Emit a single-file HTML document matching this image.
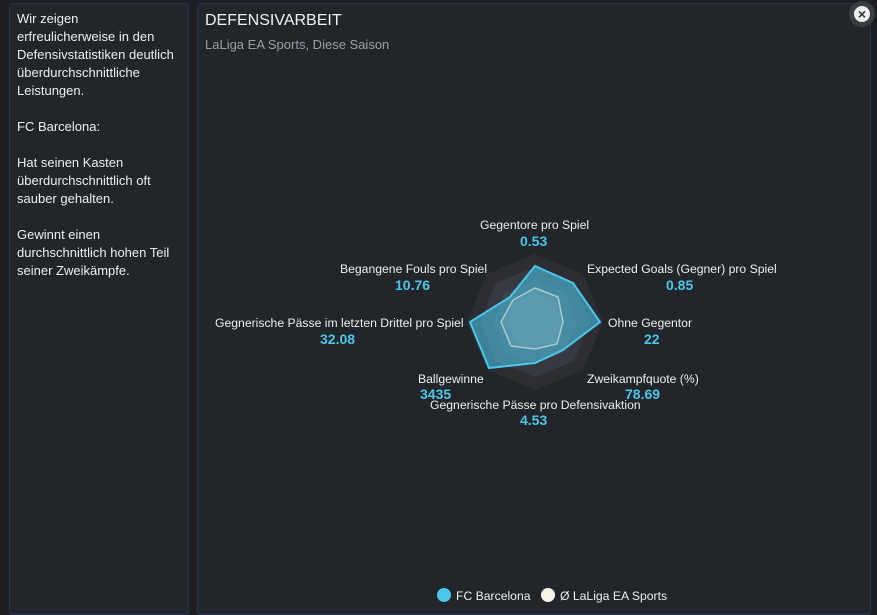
<!DOCTYPE html>
<html><head><meta charset="utf-8"><style>
body{margin:0;width:877px;height:610px;background:#1c1e21;font-family:"Liberation Sans",sans-serif;overflow:hidden;position:relative;color:#e8e8e8}
.p{position:absolute;background:#22252a;border:1px solid #1f3550;border-radius:3px}
.t{position:absolute;font-size:12.2px;line-height:18px;color:#eee;white-space:nowrap}
.v{position:absolute;font-size:14px;font-weight:bold;color:#4ac8ec;white-space:nowrap}
</style></head><body>
<div class="p" style="left:9px;top:3px;width:178px;height:610px"></div>
<div class="t" style="left:17px;top:10px;white-space:normal;width:175px;line-height:18px;font-size:13px">Wir zeigen<br>erfreulicherweise in den<br>Defensivstatistiken deutlich<br>überdurchschnittliche<br>Leistungen.<br><br>FC Barcelona:<br><br>Hat seinen Kasten<br>überdurchschnittlich oft<br>sauber gehalten.<br><br>Gewinnt einen<br>durchschnittlich hohen Teil<br>seiner Zweikämpfe.</div>
<div class="p" style="left:197px;top:3px;width:672px;height:610px"></div>
<div style="position:absolute;left:205px;top:12px;font-size:16px;color:#f0f0f0">DEFENSIVARBEIT</div>
<div style="position:absolute;left:205px;top:37px;font-size:13px;color:#9a9ea4">LaLiga EA Sports, Diese Saison</div>
<div style="position:absolute;left:849px;top:1px;width:26px;height:26px;border-radius:13px;background:#3a3d42"></div>
<div style="position:absolute;left:854px;top:6px;width:16px;height:16px;border-radius:8px;background:#eee;color:#333;font-size:14px;line-height:16px;text-align:center;font-weight:bold">×</div>
<svg style="position:absolute;left:0;top:0" width="877" height="610">
<g transform="translate(535,322)">
<polygon points="0,-68 48,-48 68,0 48,48 0,68 -48,48 -68,0 -48,-48" fill="#2c2e33"/>
<polygon points="0,-55 39,-39 55,0 39,39 0,55 -39,39 -55,0 -39,-39" fill="#36393f"/>
<polygon points="0,-42 30,-30 42,0 30,30 0,42 -30,30 -42,0 -30,-30" fill="#3e4147"/>
<polygon points="0,-28 20,-20 28,0 20,20 0,28 -20,20 -28,0 -20,-20" fill="#464950"/>
<polygon points="0,-56 38,-39 65,0 28,28 0,41 -46,46 -65,0 -25,-25" fill="rgba(74,200,236,0.55)" stroke="#4ac8ec" stroke-width="2"/>
<polygon points="0,-34 23,-25 28,0 22,22 0,27 -24,24 -34,0 -22,-22" fill="rgba(200,220,225,0.15)" stroke="#a8cbd4" stroke-width="1.5"/>
</g>
<circle cx="444" cy="595" r="7" fill="#4ac8ec"/>
<circle cx="548" cy="595" r="7" fill="#f7f2e8"/>
</svg>
<div class="t" style="left:480px;top:216px">Gegentore pro Spiel</div>
<div class="v" style="left:520px;top:233px">0.53</div>
<div class="t" style="left:340px;top:260px">Begangene Fouls pro Spiel</div>
<div class="v" style="left:395px;top:277px">10.76</div>
<div class="t" style="left:587px;top:260px">Expected Goals (Gegner) pro Spiel</div>
<div class="v" style="left:666px;top:277px">0.85</div>
<div class="t" style="left:215px;top:314px">Gegnerische Pässe im letzten Drittel pro Spiel</div>
<div class="v" style="left:320px;top:331px">32.08</div>
<div class="t" style="left:608px;top:314px">Ohne Gegentor</div>
<div class="v" style="left:644px;top:331px">22</div>
<div class="t" style="left:418px;top:370px">Ballgewinne</div>
<div class="v" style="left:420px;top:386px">3435</div>
<div class="t" style="left:587px;top:370px">Zweikampfquote (%)</div>
<div class="v" style="left:625px;top:386px">78.69</div>
<div class="t" style="left:430px;top:396px">Gegnerische Pässe pro Defensivaktion</div>
<div class="v" style="left:520px;top:412px">4.53</div>
<div class="t" style="left:456px;top:587px">FC Barcelona</div>
<div class="t" style="left:560px;top:587px">Ø LaLiga EA Sports</div>
</body></html>
